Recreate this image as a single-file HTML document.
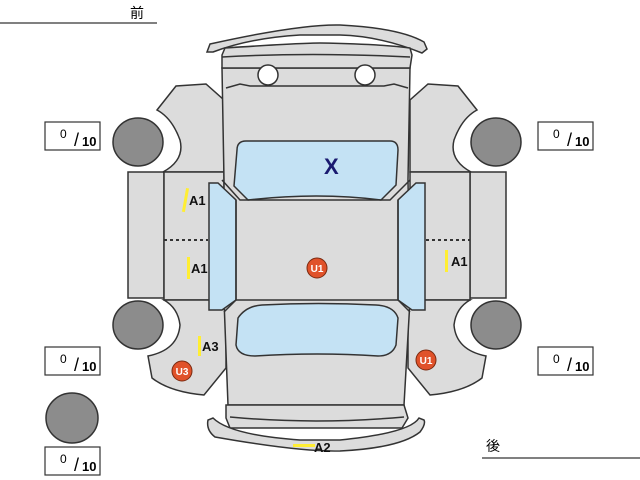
<!DOCTYPE html>
<html><head><meta charset="utf-8"><style>
body{margin:0;width:640px;height:480px;background:#fff;overflow:hidden}
svg{display:block}
text{font-family:"Liberation Sans","Noto Sans CJK JP",sans-serif}
</style></head><body>
<svg width="640" height="480" viewBox="0 0 640 480">
<g stroke="#333" stroke-width="1.5" fill="#dcdcdc">
<!-- outer rocker panels -->
<rect x="128" y="172" width="36" height="126"/>
<rect x="470" y="172" width="36" height="126"/>
<!-- front fenders -->
<path d="M157,110 L176,86 L206,84 L224,100 L224,172 L163,172 Q185,160 180,140 Q172,118 157,110 Z"/>
<path d="M477,110 L458,86 L428,84 L410,100 L410,172 L471,172 Q449,160 454,140 Q462,118 477,110 Z"/>
<!-- doors -->
<rect x="164" y="172" width="60" height="128"/>
<rect x="410" y="172" width="60" height="128"/>
<!-- rear fenders -->
<path d="M164,300 L226,300 L226,368 L204,395 Q170,392 152,378 L148,356 Q178,350 180,325 Q178,308 164,300 Z"/>
<path d="M470,300 L408,300 L408,368 L430,395 Q464,392 482,378 L486,356 Q456,350 454,325 Q456,308 470,300 Z"/>
<!-- body -->
<path d="M222,68 L410,68 L408,180 L410,300 L404,405 L228,405 L224,300 L224,180 Z"/>
<!-- front bumper -->
<path d="M207,52 L210,44 Q300,24 340,25 Q400,28 424,42 L427,49 L422,53 Q380,36 340,35 L300,35 Q250,38 213,52 Z"/>
<path d="M222,55 L225,48 Q300,43 320,43 Q380,44 410,48 L412,55 L410,68 L222,68 Z"/>
<path d="M222,57 Q310,52 410,57" fill="none"/>
<path d="M226,88 L240,84 L250,86 L384,86 L394,84 L408,88" fill="none"/>
<!-- rear bumper -->
<path d="M226,405 L404,405 L408,418 L402,428 L230,428 L226,418 Z"/>
<path d="M230,417 Q315,425 404,417" fill="none"/>
<path d="M208,420 Q206,430 215,437 Q300,452 340,451 Q400,448 420,432 Q426,424 424,420 L419,418 Q410,433 340,440 L300,440 Q230,435 213,418 Z"/>
</g>
<!-- headlights -->
<circle cx="268" cy="75" r="10" fill="#fff" stroke="#333" stroke-width="1.5"/>
<circle cx="365" cy="75" r="10" fill="#fff" stroke="#333" stroke-width="1.5"/>
<!-- windows -->
<g stroke="#333" stroke-width="1.5" fill="#c4e2f4">
<path d="M237,150 Q237,141 246,141 L390,141 Q398,141 398,150 L396,185 L381,200 Q318,192 248,200 L234,186 Z"/>
<path d="M209,183 L218,183 L236,200 L236,300 L222,310 L209,310 Z"/>
<path d="M425,183 L416,183 L398,200 L398,300 L412,310 L425,310 Z"/>
<path d="M238,318 Q246,306 262,305 Q318,302 376,305 Q394,306 398,318 L396,345 Q392,356 378,356 Q318,352 255,356 Q238,356 236,345 Z"/>
</g>
<g stroke="#333" stroke-width="1.5" fill="none">
<path d="M222,180 L240,200 L390,200 L410,180"/>
<path d="M236,200 L236,300 L224,312"/>
<path d="M398,200 L398,300 L410,312"/>
<path d="M236,300 L398,300"/>
</g>
<!-- dashed lines -->
<line x1="164" y1="240" x2="208" y2="240" stroke="#333" stroke-width="2" stroke-dasharray="3,3"/>
<line x1="426" y1="240" x2="470" y2="240" stroke="#333" stroke-width="2" stroke-dasharray="3,3"/>
<!-- tires -->
<g fill="#8c8c8c" stroke="#333" stroke-width="1.5">
<ellipse cx="138" cy="142" rx="25" ry="24"/>
<ellipse cx="496" cy="142" rx="25" ry="24"/>
<ellipse cx="138" cy="325" rx="25" ry="24"/>
<ellipse cx="496" cy="325" rx="25" ry="24"/>
<ellipse cx="72" cy="418" rx="26" ry="25"/>
</g>
<!-- score boxes -->
<g fill="#fff" stroke="#333" stroke-width="1.2">
<rect x="45" y="122" width="55" height="28"/>
<rect x="45" y="347" width="55" height="28"/>
<rect x="45" y="447" width="55" height="28"/>
<rect x="538" y="122" width="55" height="28"/>
<rect x="538" y="347" width="55" height="28"/>
</g>
<g font-size="12" fill="#000">
<text x="60" y="138">0</text><text x="74" y="146" font-size="18">/</text><text x="82" y="146" font-weight="bold" font-size="13">10</text>
<text x="60" y="363">0</text><text x="74" y="371" font-size="18">/</text><text x="82" y="371" font-weight="bold" font-size="13">10</text>
<text x="60" y="463">0</text><text x="74" y="471" font-size="18">/</text><text x="82" y="471" font-weight="bold" font-size="13">10</text>
<text x="553" y="138">0</text><text x="567" y="146" font-size="18">/</text><text x="575" y="146" font-weight="bold" font-size="13">10</text>
<text x="553" y="363">0</text><text x="567" y="371" font-size="18">/</text><text x="575" y="371" font-weight="bold" font-size="13">10</text>
</g>
<!-- header -->
<text x="130" y="18" font-size="14">前</text>
<line x1="0" y1="23" x2="157" y2="23" stroke="#000" stroke-width="1"/>
<text x="486" y="451" font-size="14">後</text>
<line x1="482" y1="458" x2="640" y2="458" stroke="#000" stroke-width="1"/>
<!-- marks -->
<text x="324" y="174" font-size="22" font-weight="bold" fill="#1a1a70">X</text>
<g fill="#ffee33">
<rect x="184" y="188" width="3" height="24" transform="rotate(10 185 200)"/>
<rect x="187" y="257" width="3" height="22"/>
<rect x="445" y="250" width="3" height="22"/>
<rect x="198" y="336" width="3" height="20"/>
<rect x="293" y="444" width="22" height="3"/>
</g>
<g font-size="13" font-weight="bold" fill="#111">
<text x="189" y="205">A1</text>
<text x="191" y="273">A1</text>
<text x="451" y="266">A1</text>
<text x="202" y="351">A3</text>
<text x="314" y="452">A2</text>
</g>
<g fill="#e0522a" stroke="#7a2a10" stroke-width="1">
<circle cx="317" cy="268" r="10"/>
<circle cx="426" cy="360" r="10"/>
<circle cx="182" cy="371" r="10"/>
</g>
<g font-size="10" font-weight="bold" fill="#fff" text-anchor="middle">
<text x="317" y="272">U1</text>
<text x="426" y="364">U1</text>
<text x="182" y="375">U3</text>
</g>
</svg>
</body></html>
